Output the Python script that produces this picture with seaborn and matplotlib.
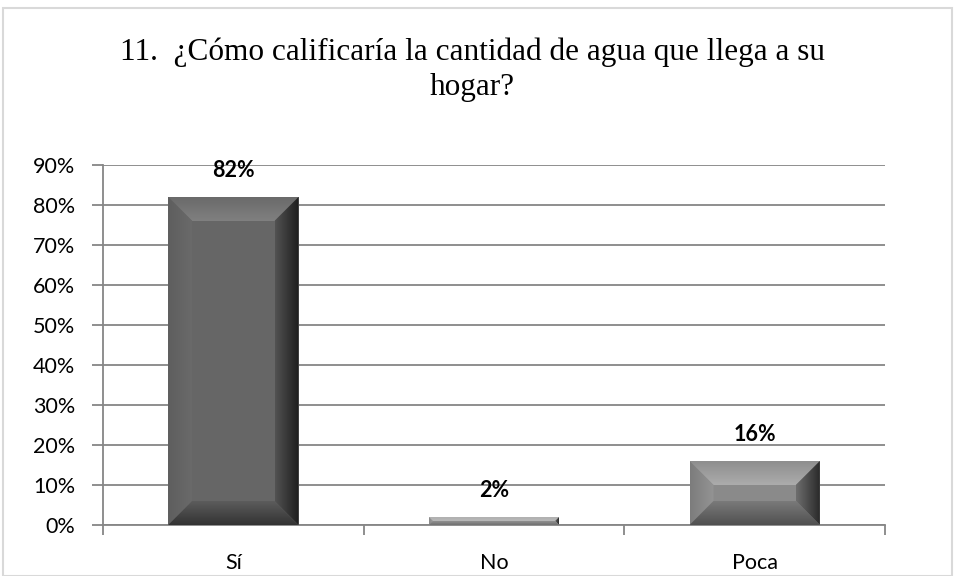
import matplotlib
matplotlib.use("Agg")
import matplotlib.pyplot as plt
from matplotlib.patches import Polygon, Rectangle
import matplotlib.colors as mcolors
import numpy as np
import seaborn as sns
import pandas as pd

categories = ["Sí", "No", "Poca"]
values = [0.82, 0.02, 0.16]
labels = ["82%", "2%", "16%"]
yticks = [0.0, 0.1, 0.2, 0.3, 0.4, 0.5, 0.6, 0.7, 0.8, 0.9]
title = "11.  ¿Cómo calificaría la cantidad de agua que llega a su\nhogar?"

face = ["#666666", "#a0a0a0", "#8a8a8a"]
# (outer, inner) colours for top, left, right, bottom bevels
bevel = [
    (("#6a6a6a", "#808080"), ("#5e5e5e", "#6a6a6a"), ("#1e1e1e", "#525252"), ("#333333", "#5c5c5c")),
    (("#b0b0b0", "#b8b8b8"), ("#8a8a8a", "#9a9a9a"), ("#2a2a2a", "#6a6a6a"), ("#707070", "#909090")),
    (("#8e8e8e", "#acacac"), ("#7c7c7c", "#949494"), ("#2a2a2a", "#6e6e6e"), ("#505050", "#7a7a7a")),
]

sns.set_theme(style="white")
plt.rcParams["font.family"] = ["Lato", "DejaVu Sans"]

W, H = 955, 576
fig = plt.figure(figsize=(W / 100, H / 100), dpi=100)
L, R, T, B = 103, 885, 165, 525
ax = fig.add_axes([L / W, 1 - B / H, (R - L) / W, (B - T) / H])

df = pd.DataFrame({"cat": categories, "val": values})
sns.barplot(data=df, x="cat", y="val", hue="cat", palette=face, legend=False,
            width=0.5, ax=ax, saturation=1, zorder=3, edgecolor="none")

ax.set_ylim(0, 0.9)
ax.set_xlim(-0.5, 2.5)
ax.set_yticks(yticks)
ax.set_yticklabels([f"{int(round(t*100))}%" for t in yticks], fontsize=15.5, color="#000000")
ax.tick_params(axis="x", labelsize=15.5, colors="#000000", pad=14)
ax.tick_params(axis="y", pad=12)
ax.set_xlabel("")
ax.set_ylabel("")

for t in yticks:
    ax.axhline(t, color="#868686", lw=1.3, zorder=1)
for s in ["top", "right"]:
    ax.spines[s].set_visible(False)
for s in ["left", "bottom"]:
    ax.spines[s].set_color("#868686")
    ax.spines[s].set_linewidth(1.3)
ax.tick_params(axis="y", which="major", left=True, length=8, width=1.3, color="#868686")
ax.set_xticks([0, 1, 2])
ax.set_xticks([-0.5, 0.5, 1.5, 2.5], minor=True)
ax.tick_params(axis="x", which="major", bottom=False)
ax.tick_params(axis="x", which="minor", bottom=True, length=7, width=1.3, color="#868686")


def grad_fill(poly_pts, c_outer, c_inner, direction, extent, z=4):
    poly = Polygon(poly_pts, closed=True, facecolor="none", edgecolor="none",
                   transform=ax.transData)
    ax.add_patch(poly)
    a = np.array(mcolors.to_rgb(c_outer))
    b = np.array(mcolors.to_rgb(c_inner))
    n = 64
    t = np.linspace(0, 1, n)
    if direction == "top":
        g = (a[None, :] * t[:, None] + b[None, :] * (1 - t[:, None]))[:, None, :]
    elif direction == "bottom":
        g = (a[None, :] * (1 - t[:, None]) + b[None, :] * t[:, None])[:, None, :]
    elif direction == "left":
        g = (a[None, :] * (1 - t[:, None]) + b[None, :] * t[:, None])[None, :, :]
    else:
        g = (a[None, :] * t[:, None] + b[None, :] * (1 - t[:, None]))[None, :, :]
    im = ax.imshow(g, extent=extent, origin="lower", aspect="auto", zorder=z,
                   interpolation="bilinear")
    im.set_clip_path(poly)


px_x = 3 / (R - L)
px_y = 0.9 / (B - T)
bev = 24
bars = list(ax.patches)
for i, p in enumerate(bars):
    x0, w = p.get_x(), p.get_width()
    y0, h = p.get_y(), p.get_height()
    x1, y1 = x0 + w, y0 + h
    by = min(bev * px_y, h / 2)
    bx = by / px_y * px_x
    top, left, right, bottom = bevel[i]
    grad_fill([(x0, y1), (x1, y1), (x1 - bx, y1 - by), (x0 + bx, y1 - by)],
              top[0], top[1], "top", (x0, x1, y1 - by, y1))
    grad_fill([(x0, y0), (x0, y1), (x0 + bx, y1 - by), (x0 + bx, y0 + by)],
              left[0], left[1], "left", (x0, x0 + bx, y0, y1))
    grad_fill([(x1, y0), (x1, y1), (x1 - bx, y1 - by), (x1 - bx, y0 + by)],
              right[0], right[1], "right", (x1 - bx, x1, y0, y1))
    grad_fill([(x0, y0), (x1, y0), (x1 - bx, y0 + by), (x0 + bx, y0 + by)],
              bottom[0], bottom[1], "bottom", (x0, x1, y0, y0 + by))
    ax.annotate(labels[i], (x0 + w / 2, y1), xytext=(0, 19), textcoords="offset points",
                ha="center", va="center", fontsize=15.5, fontweight="bold", color="#000000",
                zorder=5)

ax.set_xlim(-0.5, 2.5)
ax.set_ylim(0, 0.9)

fig.text(472 / W, 1 - 70 / H, title, ha="center", va="center",
         fontsize=22.5, family=["Liberation Serif", "DejaVu Serif"], linespacing=1.28,
         color="#000000")

fig.add_artist(Rectangle((3 / W, 0), (952 - 3) / W, 1 - 8 / H, transform=fig.transFigure,
                         fill=False, edgecolor="#d9d9d9", lw=1.5))

fig.savefig("out.png", dpi=100)
